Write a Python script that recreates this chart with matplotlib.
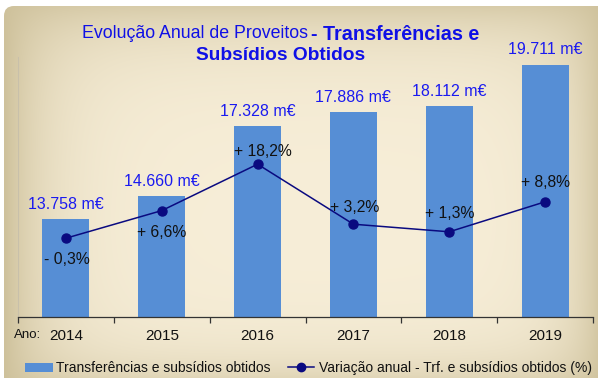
import numpy as np
import matplotlib
matplotlib.use("Agg")
import matplotlib.pyplot as plt
from matplotlib.patches import FancyBboxPatch, Patch
from matplotlib.lines import Line2D

plt.rcParams['font.family'] = ['Liberation Sans', 'DejaVu Sans']

# --- data ---
anos = ["2014", "2015", "2016", "2017", "2018", "2019"]
proveitos = [13758, 14660, 17328, 17886, 18112, 19711]          # m€
variacao = [-0.3, 6.6, 18.2, 3.2, 1.3, 8.8]                     # %
rotulos_valor = ["13.758 m€", "14.660 m€", "17.328 m€", "17.886 m€", "18.112 m€", "19.711 m€"]
rotulos_var = ["- 0,3%", "+ 6,6%", "+ 18,2%", "+ 3,2%", "+ 1,3%", "+ 8,8%"]

# label placement for the % annotations (points offset from the marker)
var_offsets = [(1, -15), (0, -16), (4, 9), (1, 12), (0, 13), (0, 14)]

W, H, DPI = 598, 378, 100
fig = plt.figure(figsize=(W / DPI, H / DPI), dpi=DPI)
fig.patch.set_facecolor("white")

# --- beige gradient panel with rounded corners ---
bg = fig.add_axes([0, 0, 1, 1], zorder=-10)
bg.set_xlim(0, W)
bg.set_ylim(H, 0)
bg.axis("off")
xx, yy = np.meshgrid(np.arange(W), np.arange(H))
x0, y0, x1, y1 = 4, 6, 598, 378
dl = np.clip(xx - x0, 0, None)
dr = np.clip(x1 - xx, 0, None)
dt = np.clip(yy - y0, 0, None)
db = np.clip(y1 - yy, 0, None)
fx = np.maximum(np.exp(-dl / 45.0), 0.85 * np.exp(-dr / 35.0))
fy = np.maximum(0.75 * np.exp(-dt / 40.0), 0.55 * np.exp(-db / 30.0))
f = 1 - (1 - fx) * (1 - fy)
light = np.array([0xF7, 0xEE, 0xD8]) / 255.0
dark = np.array([0xCE, 0xC1, 0x9B]) / 255.0
img = light[None, None, :] * (1 - f[..., None]) + dark[None, None, :] * f[..., None]
im = bg.imshow(img, extent=(0, W, H, 0), interpolation="bilinear")
panel = FancyBboxPatch((x0 + 10, y0 + 10), (x1 - x0) - 20 + 30, (y1 - y0) - 20 + 30,
                       boxstyle="round,pad=10", transform=bg.transData,
                       facecolor="none", edgecolor="none")
bg.add_patch(panel)
im.set_clip_path(panel)

# --- main axes ---
left, right, top, bottom = 18, 593, 57, 317
ax = fig.add_axes([left / W, 1 - bottom / H, (right - left) / W, (bottom - top) / H])
ax.patch.set_alpha(0)
x = np.arange(len(anos))
bar_color = "#568ED5"
ax.bar(x, proveitos, width=0.49, color=bar_color, zorder=2)
ax.set_xlim(-0.5, len(anos) - 0.5)
ax.set_ylim(10000, 20000)
ax.set_yticks([])
for s in ["top", "right"]:
    ax.spines[s].set_visible(False)
ax.spines["left"].set_color("#c8c0aa")
ax.spines["left"].set_linewidth(0.8)
ax.spines["bottom"].set_color("#333333")
ax.spines["bottom"].set_linewidth(0.9)
ax.set_xticks(x)
ax.set_xticklabels(anos, fontsize=11, color="#111111")
ax.tick_params(axis="x", which="major", length=0, pad=8.5)
ax.set_xticks(np.arange(-0.5, len(anos)), minor=True)
ax.tick_params(axis="x", which="minor", length=4, width=0.9, color="#333333", direction="out")

for xi, v, lab in zip(x, proveitos, rotulos_valor):
    ax.annotate(lab, (xi, v), xytext=(0, 10.5), textcoords="offset points",
                ha="center", va="center", fontsize=11.5, color="#1A1AF0", zorder=5)

# --- annual variation line on secondary axis ---
ax2 = ax.twinx()
ax2.set_ylim(-20, 45)
ax2.axis("off")
line_color = "#0A0A80"
ax2.plot(x, variacao, color=line_color, lw=1.1, marker="o", markersize=6.5, zorder=4)
for xi, v, lab, off in zip(x, variacao, rotulos_var, var_offsets):
    ax2.annotate(lab, (xi, v), xytext=off, textcoords="offset points",
                 ha="center", va="center", fontsize=11.3, color="#111111", zorder=5)

# --- title ---
title_color = "#1010E6"
fig.text(308 / W, 1 - 34 / H, "Evolução Anual de Proveitos", ha="right", va="center",
         fontsize=12.8, color=title_color)
fig.text(311 / W, 1 - 34 / H, "- Transferências e", ha="left", va="center",
         fontsize=14.2, color=title_color, fontweight="bold")
fig.text(281 / W, 1 - 56 / H, "Subsídios Obtidos", ha="center", va="center",
         fontsize=13.8, color=title_color, fontweight="bold")

fig.text(14 / W, 1 - 334.5 / H, "Ano:", ha="left", va="center", fontsize=9.5, color="#111111")

# --- legend ---
h1 = Patch(facecolor=bar_color, edgecolor="none")
h2 = Line2D([0], [0], color=line_color, lw=1.1, marker="o", markersize=6)
leg1 = fig.legend([h1], ["Transferências e subsídios obtidos"], loc="center left",
                  bbox_to_anchor=(25 / W, 1 - 368 / H), frameon=False, fontsize=10,
                  borderpad=0, borderaxespad=0, handlelength=2.0, handleheight=0.6,
                  handletextpad=0.2)
leg2 = fig.legend([h2], ["Variação anual - Trf. e subsídios obtidos (%)"], loc="center left",
                  bbox_to_anchor=(288 / W, 1 - 368 / H), frameon=False, fontsize=10,
                  borderpad=0, borderaxespad=0, handlelength=1.9, handletextpad=0.3)
for leg in (leg1, leg2):
    for t in leg.get_texts():
        t.set_color("#111111")

fig.savefig("out.png", dpi=DPI, facecolor=fig.get_facecolor())
